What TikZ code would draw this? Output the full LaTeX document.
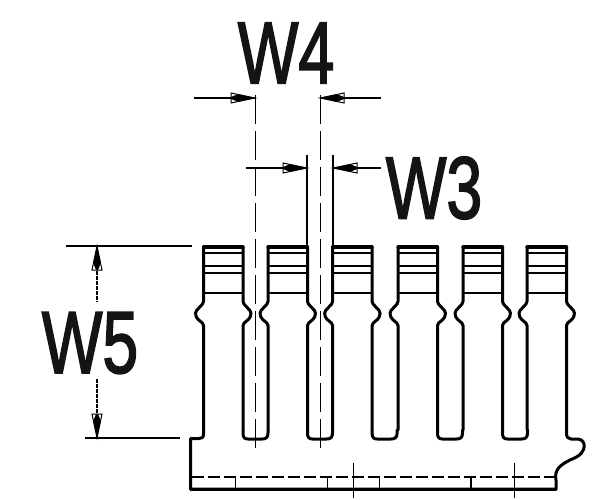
\documentclass[tikz,border=0pt]{standalone}
\usepackage{fontspec}
\setmainfont{Liberation Sans}
\newfontfamily\heavyface[FakeBold=2.2]{Liberation Sans}
\tikzset{
  x=1pt,y=-1pt,
  outline/.style={line width=3pt,line join=round,line cap=round,black},
  thinrule/.style={line width=1.2pt,black},
  centreline/.style={line width=1pt,dash pattern=on 29pt off 7pt,black},
  dimline/.style={line width=1.1pt,black},
  dimdash/.style={line width=1.1pt,dash pattern=on 4pt off 1pt,black},
  basedash/.style={line width=1.5pt,dash pattern=on 12pt off 4pt,black},
  bigtext/.style={inner sep=0pt,font=\heavyface\fontsize{88}{88}\selectfont,xscale=.73,text=black!92},
  head/.pic={
    \draw[line width=1pt,fill=white] (0,0) -- (-24,-5) -- (-24,5) -- cycle;
    \fill (0,0) -- (-17,-3.8) -- (-24,-1) -- (-24,1) -- (-17,3.8) -- cycle;
  }
}
\begin{document}
\begin{tikzpicture}
\useasboundingbox (0,0) rectangle (600,500);
% labels
\node[bigtext] (w4) at (286,53) {W4};
\node[bigtext] (w3) at (434,188) {W3};
\node[bigtext] (w5) at (90,343) {W5};
% named points of the dimension lines
\coordinate (a1) at (194,98); \coordinate (a2) at (255,98);
\coordinate (b1) at (381,98); \coordinate (b2) at (320,98);
\coordinate (c1) at (246,168); \coordinate (c2) at (307,168);
\coordinate (d1) at (381,168); \coordinate (d2) at (333,168);
\coordinate (e0) at (97,246); \coordinate (e1) at (97,302);
\coordinate (f0) at (97,438); \coordinate (f1) at (97,379);
% centre lines
\coordinate (g1) at (255,95); \coordinate (g2) at (255,453);
\coordinate (h1) at (320,95); \coordinate (h2) at (320,453);
\draw[centreline] (g1) -- (g2);
\draw[centreline] (h1) -- (h2);
% extension lines
\coordinate (i1) at (307,155); \coordinate (i2) at (307,246);
\coordinate (j1) at (333,155); \coordinate (j2) at (333,246);
\draw[thinrule,line width=1.3pt] (i1) -- (i2);
\draw[thinrule,line width=1.3pt] (j1) -- (j2);
\coordinate (k1) at (66,246); \coordinate (k2) at (192,246);
\coordinate (l1) at (85,438); \coordinate (l2) at (180,438);
\draw[thinrule] (k1) -- (k2);
\draw[thinrule] (l1) -- (l2);
% dimension arrows
\draw[dimline] (a1) -- (a2);
\draw[dimline] (b1) -- (b2);
\draw[dimline] (c1) -- (c2);
\draw[dimline] (d1) -- (d2);
\draw[dimdash] (e0) -- (e1);
\draw[dimdash] (f0) -- (f1);
\pic at (a2) {head};
\pic[rotate=180] at (b2) {head};
\pic at (c2) {head};
\pic[rotate=180] at (d2) {head};
\pic[rotate=90] at (e0) {head};
\pic[rotate=-90] at (f0) {head};
% fingers
\foreach \L in {203.5,268,332.6,398,463,527}{
  \begin{scope}[shift={(\L,0)}]
    \draw[outline,rounded corners=1.5pt] (0,430) -- (0,324) -- (-6.5,318.5) -- (-7.9,315) -- (-7.9,311.5) -- (0,303) -- (0,247);
    \draw[outline,line width=3.2pt] (0,247) -- (39.5,247);
    \draw[outline,rounded corners=1.5pt] (39.5,247) -- (39.5,303) -- (47.4,311.5) -- (47.4,315) -- (46,318.5) -- (39.5,324) -- (39.5,430);
    \foreach \y in {253,266,273,293}
      \draw[thinrule] (0,\y) -- (39.5,\y);
  \end{scope}
}
% slot bottoms
\foreach \R in {243,307.5,372.1,437.5,502.5}{
  \draw[outline] (\R,430) -- (\R,433) .. controls (\R,437.5) and (\R+1.5,439) .. (\R+5,439)
    -- (\R+19,439) .. controls (\R+23,439) and (\R+25,437.5) .. (\R+25,433) -- (\R+25,430);
}
% base outline
\draw[outline] (203.5,430) -- (203.5,434) .. controls (203.5,437.5) and (202,438.5) .. (199,438.5) -- (190.5,438.5) -- (190.5,489) -- (556,489)
  -- (556,480) .. controls (554,470) and (560,465) .. (570,460)
  .. controls (580,456) and (585,452) .. (584,444)
  .. controls (583,440) and (580,439) .. (576,439) -- (571,439)
  .. controls (568,439) and (566.5,437) .. (566.5,433) -- (566.5,430);
\draw[outline] (190.5,489.5) -- (556,489.5);
% inner dashed line and ticks
\coordinate (m1) at (192,477); \coordinate (m2) at (555,477);
\draw[basedash] (m1) -- (m2);
\foreach \x/\w in {235/1,327/1,379/1,471/1.6}
  \draw[line width=\w pt] (\x,477) -- (\x,488);
\foreach \x in {353,514}
  \draw[line width=.8pt] (\x,463) -- (\x,498);
\end{tikzpicture}
\end{document}
